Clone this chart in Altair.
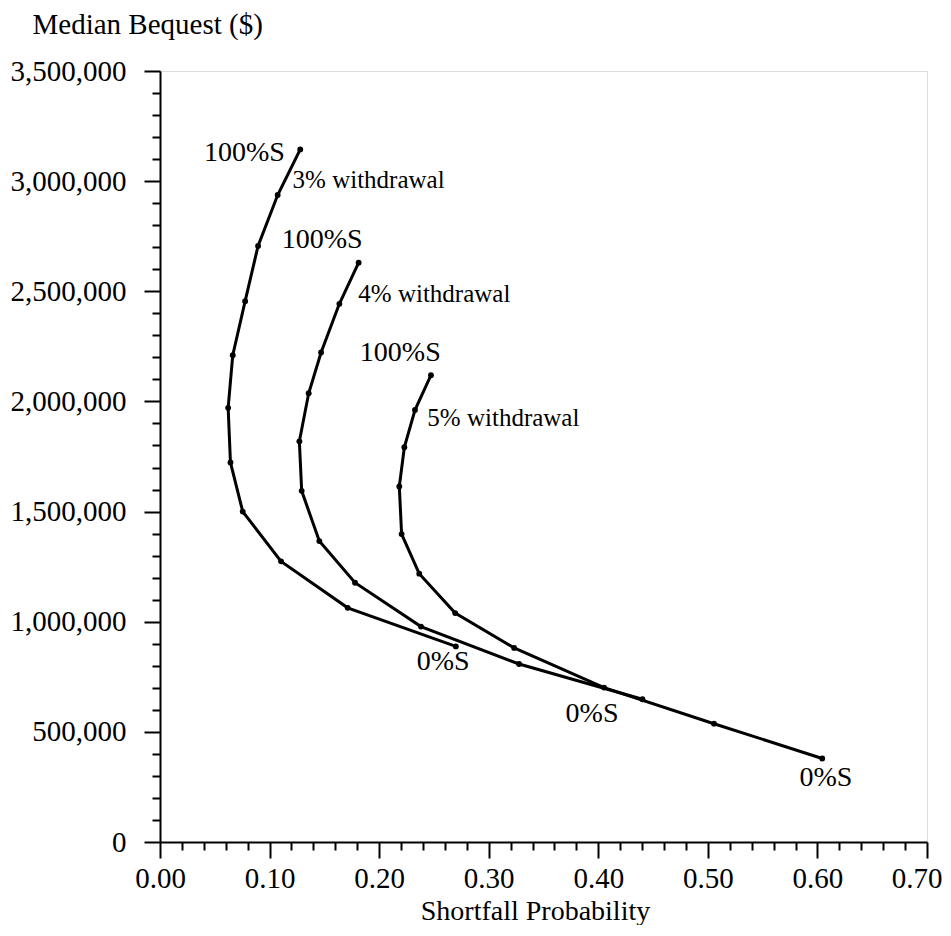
import altair as alt
import pandas as pd

# Shortfall probability (x) and median bequest (y), from 100%S down to 0%S
x3 = [0.128, 0.1074, 0.0895, 0.0777, 0.0664, 0.0622, 0.0643, 0.0755, 0.1105, 0.1713, 0.270]
y3 = [3144000, 2937000, 2706000, 2455000, 2210000, 1971000, 1723000, 1500000, 1274000, 1063000, 888000]

x4 = [0.1813, 0.1637, 0.147, 0.1357, 0.1272, 0.1293, 0.1454, 0.178, 0.2382, 0.3277, 0.4403]
y4 = [2630000, 2443000, 2222000, 2037000, 1819000, 1594000, 1366000, 1177000, 978000, 808000, 648000]

x5 = [0.2473, 0.2327, 0.223, 0.2184, 0.2205, 0.2366, 0.2694, 0.3232, 0.4053, 0.5056, 0.6044]
y5 = [2119000, 1961000, 1792000, 1614000, 1398000, 1218000, 1039000, 881000, 701000, 537000, 379000]

stock_share = [100, 90, 80, 70, 60, 50, 40, 30, 20, 10, 0]
series = ["3% withdrawal", "4% withdrawal", "5% withdrawal"]

# end labels (100%S / 0%S) and anchor points (data units)
end_text = ["100%S", "100%S", "100%S", "0%S", "0%S", "0%S"]
end_x = [0.077, 0.148, 0.2193, 0.2585, 0.3943, 0.6077]
end_y = [3126000, 2733000, 2218000, 817000, 580000, 292000]

# curve names, left-aligned at anchor points (data units)
name_text = ["3% withdrawal", "4% withdrawal", "5% withdrawal"]
name_x = [0.121, 0.181, 0.244]
name_y = [3007000, 2487000, 1926000]

# tick positions: majors every 0.10 / 500,000, minors every 0.02 / 100,000
x_ticks = [round(i * 0.02, 2) for i in range(36)]
y_ticks = [i * 100000 for i in range(36)]

rows = []
for name, xs_, ys_ in zip(series, [x3, x4, x5], [y3, y4, y5]):
    for s, xv, yv in zip(stock_share, xs_, ys_):
        rows.append({"series": name, "stock": s, "x": xv, "y": yv})
df = pd.DataFrame(rows)
ends = pd.DataFrame({"t": end_text, "x": end_x, "y": end_y})
names = pd.DataFrame({"t": name_text, "x": name_x, "y": name_y})

FONT = "Liberation Serif"
xs = alt.Scale(domain=[0, 0.7], nice=False, zero=False)
ys = alt.Scale(domain=[0, 3500000], nice=False)

x_major_test = "abs(datum.value * 10 - round(datum.value * 10)) < 0.001"
y_major_test = "datum.value % 500000 == 0"

x_axis = alt.Axis(
    values=x_ticks, tickCount=200, orient="bottom", grid=False,
    labelExpr="(" + x_major_test + ") ? format(datum.value, '.2f') : ''",
    tickSize={"condition": {"test": x_major_test, "value": 16}, "value": 8},
    labelAlign={"condition": {"test": "datum.value > 0.69", "value": "right"}, "value": "center"},
    labelOffset={"condition": {"test": "datum.value > 0.69", "value": 15}, "value": 0},
    tickWidth=2, tickColor="black",
    domainColor="black", domainWidth=2, labelFlush=False, labelOverlap=False,
    labelFont=FONT, labelFontSize=29, labelColor="black", labelPadding=6,
    title="Shortfall Probability", titleFont=FONT, titleFontSize=28,
    titleFontWeight="normal", titleColor="black",
    titleX=375, titleY=77, titleBaseline="alphabetic", titleAlign="center")

y_axis = alt.Axis(
    values=y_ticks, tickCount=200, orient="left", grid=False,
    labelExpr="(" + y_major_test + ") ? format(datum.value, ',d') : ''",
    tickSize={"condition": {"test": y_major_test, "value": 16}, "value": 8},
    tickWidth=2, tickColor="black",
    domainColor="black", domainWidth=2, labelFlush=False, labelOverlap=False,
    labelFont=FONT, labelFontSize=29, labelColor="black", labelPadding=18,
    title="Median Bequest ($)", titleFont=FONT, titleFontSize=29,
    titleFontWeight="normal", titleColor="black", titleAngle=0,
    titleX=-128, titleY=-38, titleAlign="left", titleBaseline="alphabetic")

lines = alt.Chart(df).mark_line(color="black", strokeWidth=3).encode(
    x=alt.X("x:Q", scale=xs, axis=x_axis),
    y=alt.Y("y:Q", scale=ys, axis=y_axis),
    detail="series:N",
    order=alt.Order("stock:Q", sort="descending"),
)

pts = alt.Chart(df).mark_circle(color="black", size=34, opacity=1).encode(
    x=alt.X("x:Q", scale=xs),
    y=alt.Y("y:Q", scale=ys),
)

end_labels = alt.Chart(ends).mark_text(
    font=FONT, fontSize=28, color="black", align="center", baseline="middle"
).encode(
    x=alt.X("x:Q", scale=xs),
    y=alt.Y("y:Q", scale=ys),
    text="t:N",
)

name_labels = alt.Chart(names).mark_text(
    font=FONT, fontSize=25, color="black", align="left", baseline="middle"
).encode(
    x=alt.X("x:Q", scale=xs),
    y=alt.Y("y:Q", scale=ys),
    text="t:N",
)

chart = alt.layer(lines, pts, end_labels, name_labels).properties(
    width=767, height=771,
    autosize=alt.AutoSizeParams(type="none"),
    padding={"left": 152, "top": 63, "right": 16, "bottom": 83},
).configure_view(strokeWidth=0, stroke="transparent").configure(background="white")

chart.save("out.html", embed_options={"renderer": "svg", "actions": False})
